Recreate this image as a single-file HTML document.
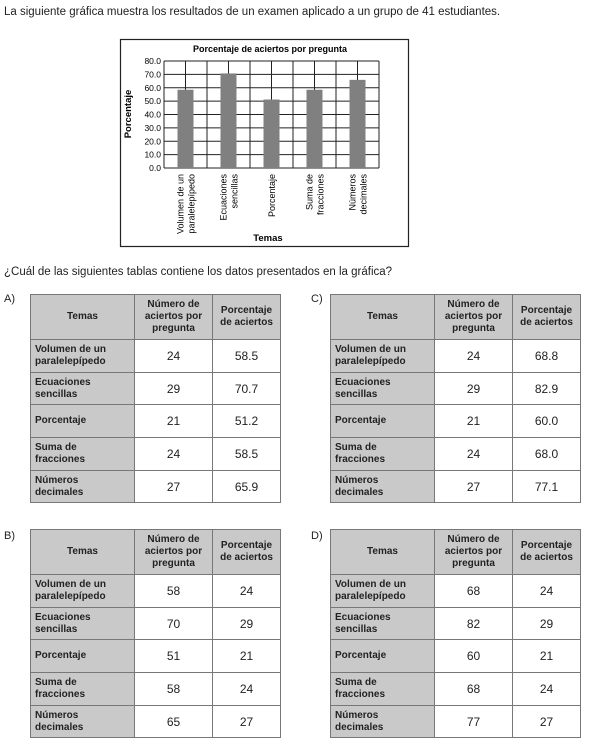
<!DOCTYPE html>
<html><head><meta charset="utf-8"><style>
body{margin:0;width:589px;height:744px;background:#fff;font-family:"Liberation Sans",sans-serif;color:#222;position:relative;overflow:hidden}
.t{position:absolute;font-size:11.5px}
table{position:absolute;border-collapse:collapse;table-layout:fixed}
td{border:1.5px solid #777;font-size:10px;text-align:center;padding:0 3px;line-height:12px}
td.h{background:#c9c9c9;font-weight:bold}
td.l{background:#c9c9c9;font-weight:bold;text-align:left;padding-left:4px}
td.v{font-size:12px}
.lab{position:absolute;font-size:11px}
</style></head><body>
<div class="t" style="left:4px;top:6px">La siguiente gráfica muestra los resultados de un examen aplicado a un grupo de 41 estudiantes.</div>
<svg width="589" height="260" style="position:absolute;left:0;top:0" id="chart"></svg>
<div class="t" style="left:4px;top:266px">¿Cuál de las siguientes tablas contiene los datos presentados en la gráfica?</div>
<div class="lab" style="left:4px;top:293px">A)</div>
<div class="lab" style="left:311px;top:293px">C)</div>
<div class="lab" style="left:4px;top:530px">B)</div>
<div class="lab" style="left:311px;top:530px">D)</div>
<div id="tables"></div>
<script>
const categories=["Volumen de un|paralelepípedo","Ecuaciones|sencillas","Porcentaje","Suma de|fracciones","Números|decimales"];
const percentages=[58.5,70.7,51.2,58.5,65.9];
const yTicks=[0,10,20,30,40,50,60,70,80];
const rowLabels=["Volumen de un<br>paralelepípedo","Ecuaciones<br>sencillas","Porcentaje","Suma de<br>fracciones","Números<br>decimales"];
const tableA1=["24","29","21","24","27"],tableA2=["58.5","70.7","51.2","58.5","65.9"];
const tableC1=["24","29","21","24","27"],tableC2=["68.8","82.9","60.0","68.0","77.1"];
const tableB1=["58","70","51","58","65"],tableB2=["24","29","21","24","27"];
const tableD1=["68","82","60","68","77"],tableD2=["24","29","21","24","27"];
const svg=document.getElementById('chart');const NS="http://www.w3.org/2000/svg";
function el(t,a,txt){const e=document.createElementNS(NS,t);for(const k in a)e.setAttribute(k,a[k]);if(txt!=null)e.textContent=txt;svg.appendChild(e);return e;}
const X0=164,X1=379,Y0=168,Y1=61;
const y=v=>Y0-(v/80)*(Y0-Y1);
const cw=(X1-X0)/categories.length;
const xc=i=>X0+cw*(i+0.5);
let b=el('rect',{x:120.5,y:39.5,width:288,height:207,fill:'#fff',stroke:'#222','stroke-width':1.2});

let t=el('text',{x:270,y:52,'font-size':9,'font-weight':'bold','text-anchor':'middle'},'Porcentaje de aciertos por pregunta');

yTicks.forEach(v=>{let l=el('line',{x1:X0,x2:X1,y1:y(v),y2:y(v),stroke:'#222','stroke-width':1});

let tx=el('text',{x:X0-3,y:y(v)+3,'font-size':8.5,'text-anchor':'end'},v.toFixed(1));
});
for(let i=0;i<=categories.length*2;i++){let xx=X0+cw/2*i;let l=el('line',{x1:xx,x2:xx,y1:Y1,y2:Y0,stroke:'#222','stroke-width':1});
}
percentages.forEach((v,i)=>{let r=el('rect',{x:xc(i)-8,y:y(v),width:16,height:Y0-y(v),fill:'#808080'});

const parts=categories[i].split('|');
parts.forEach((p,j)=>{const xx=xc(i)-(parts.length-1)*5.5+j*11+3.5;
let tx=el('text',{x:xx,y:174,'font-size':9,'text-anchor':'end',transform:`rotate(-90 ${xx} 174)`},p);
});});
let yt=el('text',{x:131,y:114,'font-size':9.5,'font-weight':'bold','text-anchor':'middle',transform:'rotate(-90 131 114)'},'Porcentaje');

let xt=el('text',{x:268,y:241,'font-size':9.5,'font-weight':'bold','text-anchor':'middle'},'Temas');

function mk(name,left,top,c1,c2){
 let h='<table style="left:'+left+'px;top:'+top+'px;width:250px"><colgroup><col style="width:104px"><col style="width:78px"><col style="width:68px"></colgroup>';
 h+='<tr style="height:45px"><td class="h">Temas</td><td class="h">Número de aciertos por pregunta</td><td class="h">Porcentaje de aciertos</td></tr>';
 for(let i=0;i<5;i++)h+='<tr style="height:32.7px"><td class="l">'+rowLabels[i]+'</td><td class="v">'+c1[i]+'</td><td class="v">'+c2[i]+'</td></tr>';
 return h+'</table>';}
document.getElementById('tables').innerHTML=mk('table-a',30,294,tableA1,tableA2)+mk('table-c',330,294,tableC1,tableC2)+mk('table-b',30,529,tableB1,tableB2)+mk('table-d',330,529,tableD1,tableD2);
</script>
</body></html>
